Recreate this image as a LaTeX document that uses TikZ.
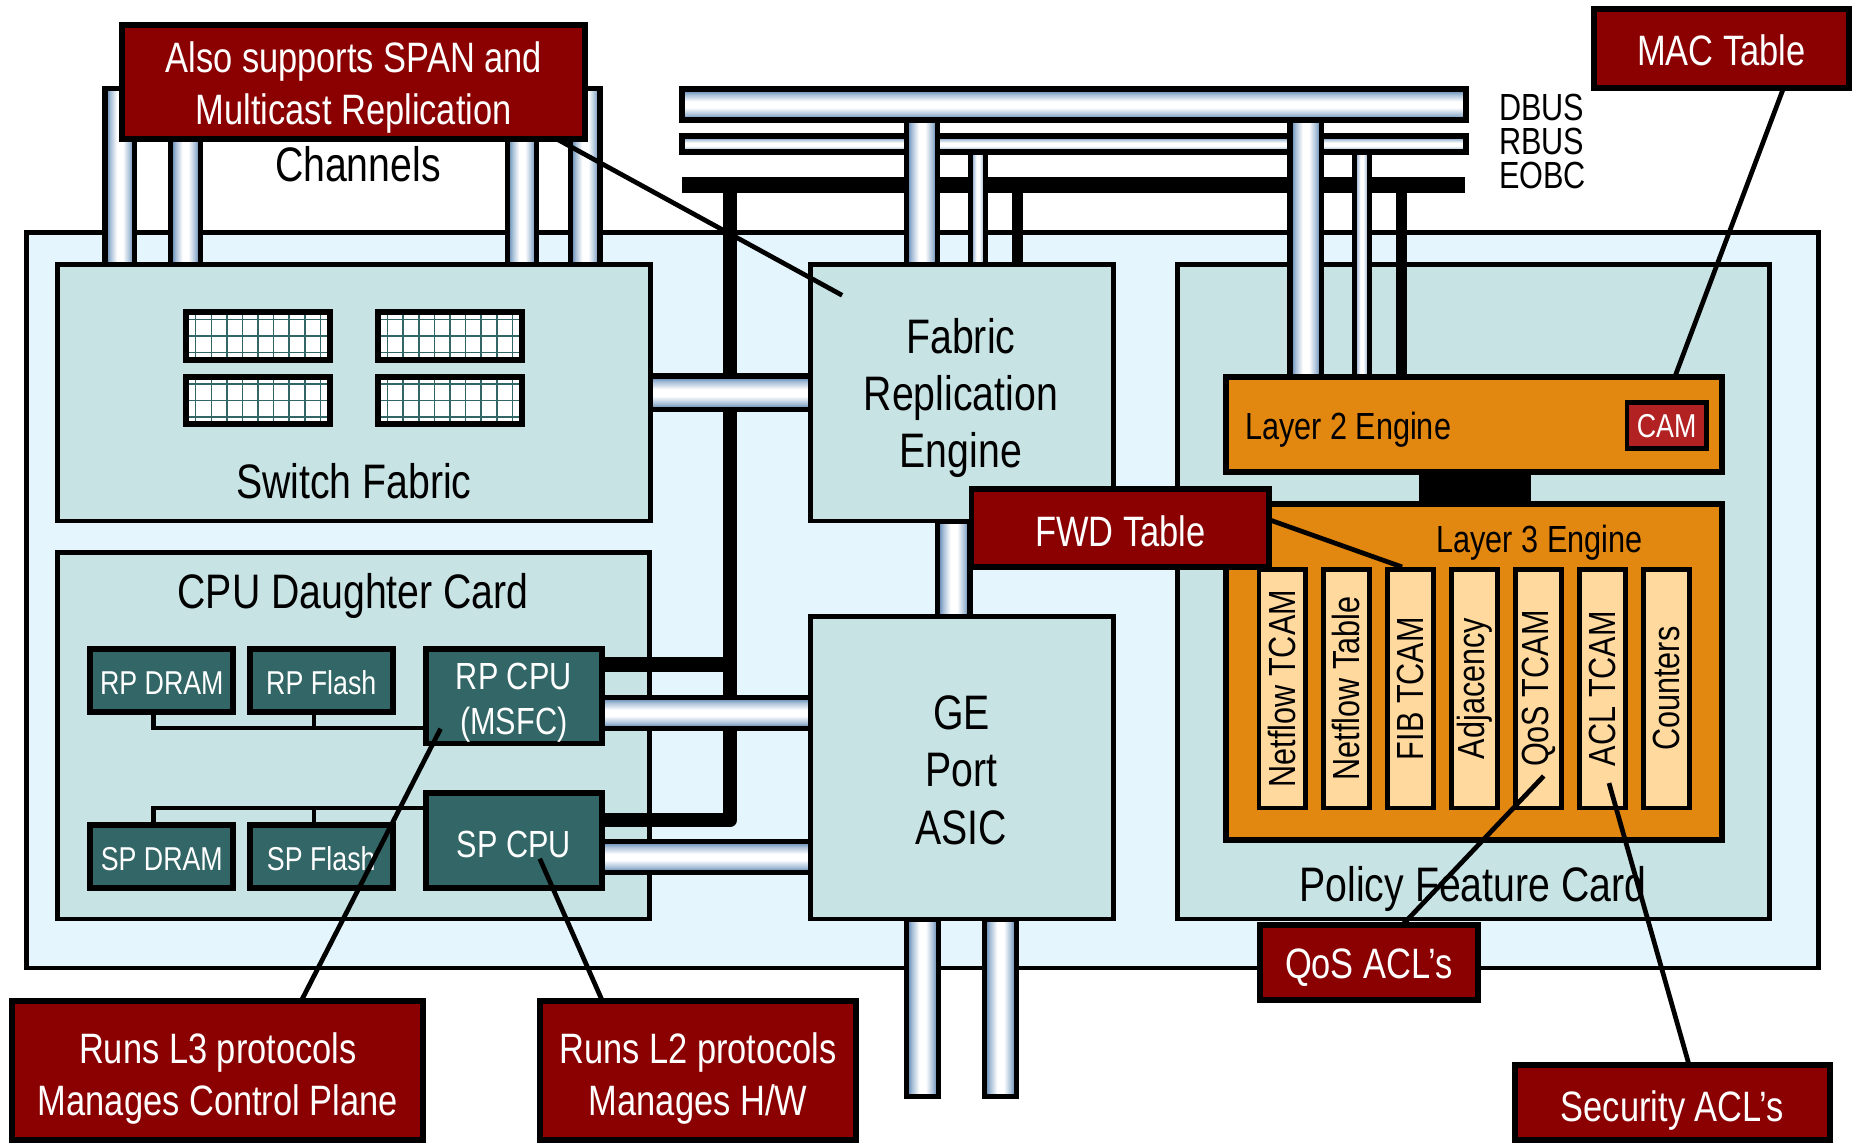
\documentclass[tikz,border=0pt]{standalone}
\usepackage{fontspec}
\setmainfont{Liberation Sans}[FakeStretch=0.81]
\usetikzlibrary{calc, positioning}

\pgfdeclarelayer{back}
\pgfdeclarelayer{wires}
\pgfdeclarelayer{front}
\pgfsetlayers{back,wires,main,front}

\definecolor{boardblue}{HTML}{E5F5FD}
\definecolor{cardteal}{HTML}{C8E3E4}
\definecolor{chipteal}{HTML}{336666}
\definecolor{engorange}{HTML}{E2870F}
\definecolor{tcampeach}{HTML}{FFD99E}
\definecolor{notered}{HTML}{8B0000}
\definecolor{camred}{HTML}{B22222}
\definecolor{pipeblue}{HTML}{4A78A8}
\definecolor{pipemid}{HTML}{A9C0D8}

\pgfdeclareverticalshading{hpipe}{100bp}{color(0bp)=(pipeblue); color(25bp)=(pipeblue); color(34bp)=(pipemid); color(45bp)=(white); color(55bp)=(white); color(66bp)=(pipemid); color(75bp)=(pipeblue); color(100bp)=(pipeblue)}
\pgfdeclarehorizontalshading{vpipe}{100bp}{color(0bp)=(pipeblue); color(25bp)=(pipeblue); color(34bp)=(pipemid); color(45bp)=(white); color(55bp)=(white); color(66bp)=(pipemid); color(75bp)=(pipeblue); color(100bp)=(pipeblue)}

% invisible strut that pushes a node's text down
\newcommand{\topstrut}[1]{\rule{0pt}{#1pt}}

\begin{document}
\begin{tikzpicture}[x=1pt, y=-1pt,
        boardbox/.style={rectangle, draw=black, line width=4pt, fill=boardblue, inner sep=0pt, outer sep=0pt},
        card/.style={rectangle, draw=black, line width=4pt, fill=cardteal, inner sep=0pt, outer sep=0pt},
        cardtext/.style={inner sep=0pt, font=\fontsize{41}{48.5}\selectfont},
        chip/.style={rectangle, draw=black, line width=5pt, fill=chipteal, text=white, inner sep=0pt, outer sep=0pt, minimum width=121pt, minimum height=53pt, font=\fontsize{28}{33}\selectfont},
        cpuchip/.style={chip, minimum width=149pt, minimum height=80pt, align=center, font=\fontsize{32}{38}\selectfont},
        chipwire/.style={draw=black, line width=3.5pt},
        gridbox/.style={rectangle, draw=black, line width=5pt, fill=white, inner sep=0pt, outer sep=0pt, minimum width=122pt, minimum height=40pt},
        gridline/.style={draw=chipteal, line width=1.3pt},
        engine/.style={rectangle, draw=black, line width=5pt, fill=engorange, inner sep=0pt, outer sep=0pt, minimum width=420pt},
        enginetext/.style={inner sep=0pt, anchor=base west, font=\fontsize{32}{38}\selectfont},
        tcam/.style={rectangle, draw=black, line width=4pt, fill=tcampeach, inner sep=0pt, outer sep=0pt, minimum width=202pt, minimum height=39pt, rotate=90, font=\fontsize{32}{38}\selectfont},
        camchip/.style={rectangle, draw=black, line width=4pt, fill=camred, text=white, inner sep=0pt, outer sep=0pt, minimum width=67pt, minimum height=39pt, font=\fontsize{28}{33}\selectfont},
        notebox/.style={rectangle, draw=black, line width=5pt, fill=notered, text=white, align=center, inner sep=0pt, outer sep=0pt, font=\fontsize{36}{44}\selectfont},
        pointer/.style={draw=black, line width=4pt},
        pipe/.style={draw=black, line width=4.5pt},
        buspipe/.style={rectangle, draw=black, line width=5pt, shade, shading=hpipe, inner sep=0pt, outer sep=0pt, minimum width=664pt},
        eobcwire/.style={draw=black, line width=9.3pt},
        buslabel/.style={inner sep=0pt, anchor=base west, font=\fontsize{32}{38}\selectfont}
    ]
        \useasboundingbox (0,0) rectangle (1568,969);

        % --- BOARD AND CARDS ---
        \begin{pgfonlayer}{back}
            \node[boardbox, minimum width=1517pt, minimum height=622.5pt] (board) at (781,508.25) {};
            \node[card, minimum width=501pt, minimum height=554pt] (pfc) at (1247.5,501) {};
            \node[card, minimum width=501.5pt, minimum height=310pt] (cpucard) at (299.25,623) {};
        \end{pgfonlayer}

        \node[card, minimum width=502pt, minimum height=217pt] (sf) at (299.5,332.5) {};
        \node[card, minimum width=257pt, minimum height=217pt] (fre) at (814.5,332.5) {};
        \node[card, minimum width=257pt, minimum height=256pt] (ge) at (814.5,650) {};

        \node[cardtext, anchor=base] (sftext) at (299.5,422) {Switch Fabric};
        \node[cardtext, anchor=base] (cputext) at (299,515) {CPU Daughter Card};
        \node[cardtext, anchor=base] (chantext) at (303,154) {Channels};
        \node[cardtext, align=center] (fretext) at (813.5,337) {Fabric\\Replication\\Engine};
        \node[cardtext, align=center] (getext) at (814,652) {GE\\Port\\ASIC};
        \node[cardtext, anchor=base] (pfctext) at (1247,763) {Policy Feature Card};

        % --- SWITCH FABRIC GRIDS ---
        \foreach \gx/\gy [count=\g] in {218.5/284.5, 381/284.5, 218.5/339, 381/339} {
            \node[gridbox] (grid\g) at (\gx,\gy) {};
            \foreach \k in {0,...,8}
                \draw[gridline] ($(grid\g.center)+(-52.8+13.2*\k,-17.5)$) -- +(0,35);
            \foreach \k in {-1,0,1}
                \draw[gridline] ($(grid\g.center)+(-58.5,14.1*\k)$) -- +(117,0);
        }

        % --- CPU DAUGHTER CARD ---
        \node[chip] (rpdram) at (137,576) {\topstrut{24}RP DRAM};
        \node[chip, right=14pt of rpdram] (rpflash) {\topstrut{24}RP Flash};
        \node[cpuchip] (rpcpu) at (435,589.5) {\topstrut{33}RP CPU\\(MSFC)};
        \node[chip] (spdram) at (137,725) {\topstrut{24}SP DRAM};
        \node[chip, right=14pt of spdram] (spflash) {\topstrut{24}SP Flash};
        \node[cpuchip] (spcpu) at (435,711.5) {\topstrut{29}SP CPU};

        \draw[chipwire] ($(rpdram.south)+(-7,0)$) |- ($(rpcpu.west)+(0,26.5)$);
        \draw[chipwire] ($(rpflash.south)+(-6,0)$) -- ($(rpflash.south |- rpcpu.west)+(-6,26.5)$);
        \draw[chipwire] ($(spdram.north)+(-7,0)$) |- ($(spcpu.west)+(0,-27.5)$);
        \draw[chipwire] ($(spflash.north)+(-6,0)$) -- ($(spflash.north |- spcpu.west)+(-6,-27.5)$);

        % --- POLICY FEATURE CARD ---
        \node[engine, minimum height=80.5pt] (l2) at (1248,359.25) {};
        \node[engine, minimum height=284pt] (l3) at (1248,569) {};
        \node[camchip] (cam) at (1411,360.5) {CAM};
        \node[enginetext] (l2text) at (1054,372) {Layer 2 Engine};
        \node[enginetext] (l3text) at (1216,468) {Layer 3 Engine};
        \foreach \tname [count=\t from 0] in {Netflow TCAM, Netflow Table, FIB TCAM, Adjacency, QoS TCAM, ACL TCAM, Counters}
            \node[tcam] (tcam\t) at (1085.5+54.25*\t,583) {\tname};

        \node[buslabel] (dbuslabel) at (1269,102) {DBUS};
        \node[buslabel] (rbuslabel) at (1269,130.5) {RBUS};
        \node[buslabel] (eobclabel) at (1269,160) {EOBC};

        % --- BUSES AND PIPES ---
        \begin{pgfonlayer}{wires}
            \node[fill=black, inner sep=0pt, outer sep=0pt, minimum width=663pt, minimum height=13pt] (eobc) at (908.5,156.5) {};
            \draw[eobcwire] ($(fre.north)+(47,0)$) -- ($(fre.north |- eobc.center)+(47,0)$);
            \draw[eobcwire] ($(l2.north)+(-61.5,0)$) -- ($(l2.north |- eobc.center)+(-61.5,0)$);
            \draw[eobcwire, line width=12pt, line join=round] ($(eobc.center -| rpcpu.east)+(108.5,0)$) -- ($(spcpu.east)+(108.5,-17)$) -- ($(spcpu.east)+(0,-17)$);
            \draw[eobcwire, line width=13pt] ($(rpcpu.east)+(0,-27)$) -- ++(108.5,0);

            \node[buspipe, minimum height=13.5pt] (rbus) at (909.5,122.2) {};
            \shadedraw[pipe, shading=vpipe] ($(fre.north west |- rbus.south)+(135.5,0)$) rectangle ($(fre.north west)+(148.5,0)$);
            \shadedraw[pipe, shading=vpipe] ($(l2.north west |- rbus.south)+(108.5,0)$) rectangle ($(l2.north west)+(121.5,0)$);

            \node[buspipe, minimum height=26pt] (dbus) at (909.5,88.5) {};
            \shadedraw[pipe, shading=vpipe] ($(fre.north west |- dbus.south)+(81.25,0)$) rectangle ($(fre.north west)+(107.75,0)$);
            \shadedraw[pipe, shading=vpipe] ($(l2.north west |- dbus.south)+(54.25,0)$) rectangle ($(l2.north west)+(80.75,0)$);

            \foreach \dx in {40.5,96,381,434.5}
                \shadedraw[pipe, shading=vpipe] ($(sf.north west)+(\dx,-149)$) rectangle ($(sf.north west)+(\dx+25,0)$);
            \shadedraw[pipe, shading=hpipe] ($(sf.east)+(0,-14.25)$) rectangle ($(fre.west)+(0,14.25)$);
            \shadedraw[pipe, shading=hpipe] ($(rpcpu.east)+(0,0.75)$) rectangle ($(rpcpu.east -| ge.west)+(0,27.25)$);
            \shadedraw[pipe, shading=hpipe] ($(spcpu.east)+(0,0.75)$) rectangle ($(spcpu.east -| ge.west)+(0,27.25)$);
            \shadedraw[pipe, shading=vpipe] ($(fre.south)+(-20.75,0)$) rectangle ($(ge.north)+(6.75,0)$);
            \foreach \dx in {-47,19}
                \shadedraw[pipe, shading=vpipe] ($(ge.south)+(\dx,0)$) rectangle ($(ge.south)+(\dx+27,150.5)$);
            \fill[black] ($(l2.south)+(-47,0)$) rectangle ($(l3.north)+(48,0)$);
        \end{pgfonlayer}

        % --- CALLOUTS ---
        \begin{pgfonlayer}{front}
            \node[notebox, minimum width=392pt, minimum height=96pt] (span) at (299.5,69.5) {\topstrut{36}Also supports SPAN and\\Multicast Replication};
            \node[notebox, minimum width=216pt, minimum height=67pt] (mac) at (1457.5,41) {\topstrut{30}MAC Table};
            \node[notebox, minimum width=252pt, minimum height=66pt] (fwd) at (948.5,447) {\topstrut{32}FWD Table};
            \node[notebox, minimum width=348pt, minimum height=118pt] (l3note) at (184.5,906.5) {\topstrut{40}Runs L3 protocols\\Manages Control Plane};
            \node[notebox, minimum width=267pt, minimum height=118pt] (l2note) at (591,906.5) {\topstrut{40}Runs L2 protocols\\Manages H/W};
            \node[notebox, minimum width=185pt, minimum height=63pt] (qos) at (1159,815) {\topstrut{34}QoS ACL’s};
            \node[notebox, minimum width=267pt, minimum height=64pt] (secacl) at (1416,933.5) {\topstrut{40}Security ACL’s};

            \draw[pointer] ($(span.south east)+(-24.5,0)$) -- ($(fre.north west)+(27,26)$);
            \draw[pointer] ($(mac.south)+(52.5,0)$) -- ($(l2.north east)+(-40,0)$);
            \draw[pointer] ($(fwd.east)+(0,-7)$) -- ($(tcam2.center)+(-7,-103)$);
            \draw[pointer] ($(l3note.north)+(70.5,0)$) -- ($(rpcpu.south west)+(12.5,-12.5)$);
            \draw[pointer] ($(l2note.north)+(-81,0)$) -- ($(spcpu.center)+(22,15.5)$);
            \draw[pointer] ($(qos.north)+(28,0)$) -- ($(tcam4.center)+(4.5,74)$);
            \draw[pointer] ($(secacl.north)+(14,0)$) -- ($(tcam5.center)+(5.5,80)$);
        \end{pgfonlayer}

    \end{tikzpicture}
\end{document}
